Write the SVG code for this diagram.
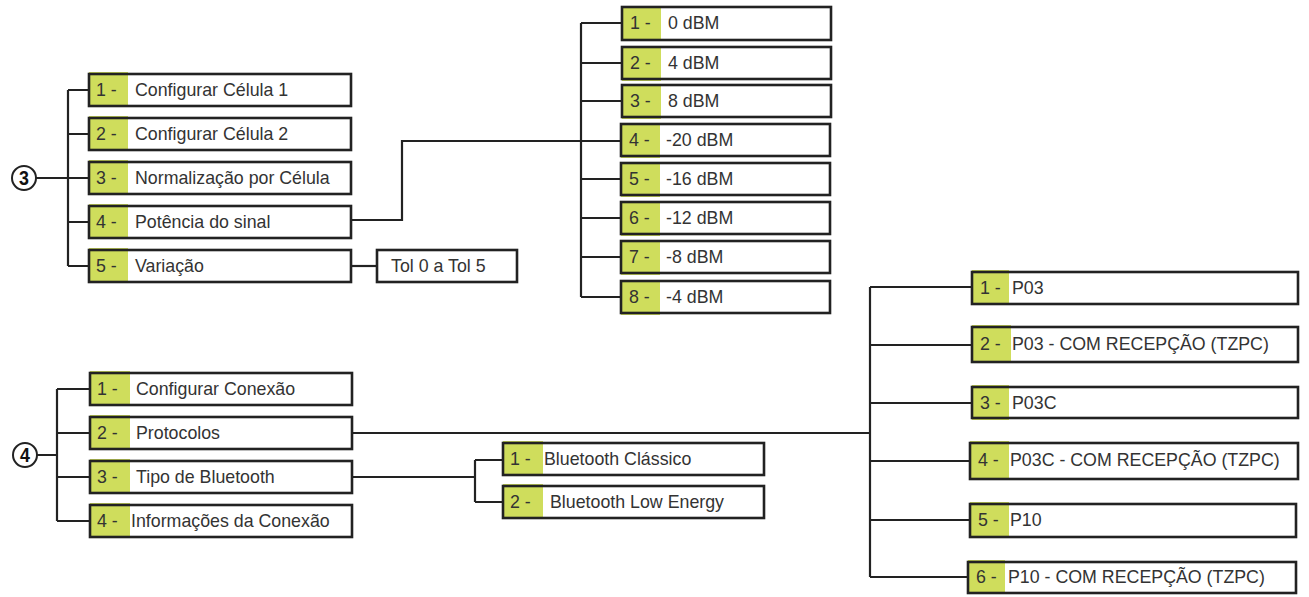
<svg xmlns="http://www.w3.org/2000/svg" width="1309" height="597" viewBox="0 0 1309 597">
<style>
.bg{fill:#fff;stroke:none}
.tag{fill:#cfdd5c}
.frame{fill:none;stroke:#222;stroke-width:2.6}
.t{font-family:"Liberation Sans",Arial,sans-serif;font-size:17.8px;fill:#333}
.c{fill:none;stroke:#222;stroke-width:2.2}
.circ{fill:#fff;stroke:#222;stroke-width:2}
.cn{font-family:"Liberation Sans",Arial,sans-serif;font-size:21px;font-weight:bold;fill:#111;text-anchor:middle}
</style>
<rect width="1309" height="597" fill="#fff"/>
<g id="connectors">
<path class="c" d="M36 178H68M68 90V266M68 90H89M68 134H89M68 178H89M68 222H89M68 266H89"/>
<path class="c" d="M351 266H377"/>
<path class="c" d="M351 220H402V141H622M581 23V297M581 23H622M581 63H622M581 101H622M581 179H622M581 218H622M581 257H622M581 297H622"/>
<path class="c" d="M37 455H57M57 389V521M57 389H90M57 433H90M57 477H90M57 521H90"/>
<path class="c" d="M352 433H870M870 287V577M870 287H972M870 345H972M870 403H972M870 461H970M870 520H970M870 577H968"/>
<path class="c" d="M352 477H475M475 460V502M475 460H503M475 502H503"/>
</g>
<g id="n3">
<circle class="circ" cx="24" cy="178" r="12"/>
<text class="cn" x="24" y="185.5" transform="translate(24 0) scale(0.85 1) translate(-24 0)">3</text>
</g>
<g id="n3-1"><rect class="bg" x="89" y="74" width="262" height="32"/><rect class="tag" x="89" y="72" width="39" height="35"/><rect class="frame" x="89" y="74" width="262" height="32"/><text class="t" x="96" y="96">1 -</text><text class="t" x="135" y="96">Configurar Célula 1</text></g>
<g id="n3-2"><rect class="bg" x="89" y="118" width="262" height="32"/><rect class="tag" x="89" y="116" width="39" height="35"/><rect class="frame" x="89" y="118" width="262" height="32"/><text class="t" x="96" y="140">2 -</text><text class="t" x="135" y="140">Configurar Célula 2</text></g>
<g id="n3-3"><rect class="bg" x="89" y="162" width="262" height="32"/><rect class="tag" x="89" y="160" width="39" height="35"/><rect class="frame" x="89" y="162" width="262" height="32"/><text class="t" x="96" y="184">3 -</text><text class="t" x="135" y="184">Normalização por Célula</text></g>
<g id="n3-4"><rect class="bg" x="89" y="206" width="262" height="32"/><rect class="tag" x="89" y="204" width="39" height="35"/><rect class="frame" x="89" y="206" width="262" height="32"/><text class="t" x="96" y="228">4 -</text><text class="t" x="135" y="228">Potência do sinal</text></g>
<g id="n3-5"><rect class="bg" x="89" y="250" width="262" height="32"/><rect class="tag" x="89" y="248" width="39" height="35"/><rect class="frame" x="89" y="250" width="262" height="32"/><text class="t" x="96" y="272">5 -</text><text class="t" x="135" y="272">Variação</text></g>
<g id="tol"><rect class="bg" x="377" y="250" width="140" height="32"/><rect class="frame" x="377" y="250" width="140" height="32"/><text class="t" x="391" y="272">Tol 0 a Tol 5</text></g>
<g id="d1"><rect class="bg" x="622" y="7" width="209" height="33"/><rect class="tag" x="622" y="6" width="39" height="35"/><rect class="frame" x="622" y="7" width="209" height="33"/><text class="t" x="630" y="29">1 -</text><text class="t" x="668" y="29">0 dBM</text></g>
<g id="d2"><rect class="bg" x="622" y="47" width="209" height="32"/><rect class="tag" x="622" y="46" width="39" height="35"/><rect class="frame" x="622" y="47" width="209" height="32"/><text class="t" x="630" y="69">2 -</text><text class="t" x="668" y="69">4 dBM</text></g>
<g id="d3"><rect class="bg" x="622" y="85" width="209" height="32"/><rect class="tag" x="622" y="84" width="39" height="35"/><rect class="frame" x="622" y="85" width="209" height="32"/><text class="t" x="630" y="107">3 -</text><text class="t" x="668" y="107">8 dBM</text></g>
<g id="d4"><rect class="bg" x="621" y="124" width="209" height="32"/><rect class="tag" x="621" y="123" width="39" height="35"/><rect class="frame" x="621" y="124" width="209" height="32"/><text class="t" x="629" y="146">4 -</text><text class="t" x="666" y="146">-20 dBM</text></g>
<g id="d5"><rect class="bg" x="621" y="163" width="209" height="32"/><rect class="tag" x="621" y="162" width="39" height="35"/><rect class="frame" x="621" y="163" width="209" height="32"/><text class="t" x="629" y="185">5 -</text><text class="t" x="666" y="185">-16 dBM</text></g>
<g id="d6"><rect class="bg" x="621" y="202" width="209" height="32"/><rect class="tag" x="621" y="201" width="39" height="35"/><rect class="frame" x="621" y="202" width="209" height="32"/><text class="t" x="629" y="224">6 -</text><text class="t" x="666" y="224">-12 dBM</text></g>
<g id="d7"><rect class="bg" x="621" y="241" width="209" height="32"/><rect class="tag" x="621" y="240" width="39" height="35"/><rect class="frame" x="621" y="241" width="209" height="32"/><text class="t" x="629" y="263">7 -</text><text class="t" x="666" y="263">-8 dBM</text></g>
<g id="d8"><rect class="bg" x="621" y="281" width="209" height="32"/><rect class="tag" x="621" y="280" width="39" height="35"/><rect class="frame" x="621" y="281" width="209" height="32"/><text class="t" x="629" y="303">8 -</text><text class="t" x="666" y="303">-4 dBM</text></g>
<g id="n4">
<circle class="circ" cx="25" cy="455" r="12"/>
<text class="cn" x="25" y="462.5" transform="translate(25 0) scale(0.85 1) translate(-25 0)">4</text>
</g>
<g id="n4-1"><rect class="bg" x="90" y="373" width="262" height="32"/><rect class="tag" x="90" y="371" width="40" height="35"/><rect class="frame" x="90" y="373" width="262" height="32"/><text class="t" x="97" y="395">1 -</text><text class="t" x="136" y="395">Configurar Conexão</text></g>
<g id="n4-2"><rect class="bg" x="90" y="417" width="262" height="32"/><rect class="tag" x="90" y="415" width="40" height="35"/><rect class="frame" x="90" y="417" width="262" height="32"/><text class="t" x="97" y="439">2 -</text><text class="t" x="136" y="439">Protocolos</text></g>
<g id="n4-3"><rect class="bg" x="90" y="461" width="262" height="32"/><rect class="tag" x="90" y="459" width="40" height="35"/><rect class="frame" x="90" y="461" width="262" height="32"/><text class="t" x="97" y="483">3 -</text><text class="t" x="136" y="483">Tipo de Bluetooth</text></g>
<g id="n4-4"><rect class="bg" x="90" y="505" width="262" height="32"/><rect class="tag" x="90" y="503" width="40" height="35"/><rect class="frame" x="90" y="505" width="262" height="32"/><text class="t" x="97" y="527">4 -</text><text class="t" x="131" y="527">Informações da Conexão</text></g>
<g id="b1"><rect class="bg" x="503" y="443" width="261" height="32"/><rect class="tag" x="503" y="441" width="40" height="35"/><rect class="frame" x="503" y="443" width="261" height="32"/><text class="t" x="510" y="465">1 -</text><text class="t" x="544" y="465">Bluetooth Clássico</text></g>
<g id="b2"><rect class="bg" x="503" y="486" width="261" height="32"/><rect class="tag" x="503" y="484" width="40" height="35"/><rect class="frame" x="503" y="486" width="261" height="32"/><text class="t" x="510" y="508">2 -</text><text class="t" x="550" y="508">Bluetooth Low Energy</text></g>
<g id="p1"><rect class="bg" x="972" y="272" width="326" height="32"/><rect class="tag" x="972" y="270" width="37" height="35"/><rect class="frame" x="972" y="272" width="326" height="32"/><text class="t" x="980" y="294">1 -</text><text class="t" x="1012" y="294">P03</text></g>
<g id="p2"><rect class="bg" x="972" y="327" width="326" height="35"/><rect class="tag" x="972" y="325" width="39" height="38"/><rect class="frame" x="972" y="327" width="326" height="35"/><text class="t" x="980" y="350">2 -</text><text class="t" x="1012" y="350">P03 - COM RECEPÇÃO (TZPC)</text></g>
<g id="p3"><rect class="bg" x="972" y="387" width="326" height="31"/><rect class="tag" x="972" y="385" width="37" height="35"/><rect class="frame" x="972" y="387" width="326" height="31"/><text class="t" x="980" y="409">3 -</text><text class="t" x="1012" y="409">P03C</text></g>
<g id="p4"><rect class="bg" x="970" y="443" width="328" height="36"/><rect class="tag" x="970" y="441" width="39" height="39"/><rect class="frame" x="970" y="443" width="328" height="36"/><text class="t" x="978" y="466">4 -</text><text class="t" x="1010" y="466">P03C - COM RECEPÇÃO (TZPC)</text></g>
<g id="p5"><rect class="bg" x="970" y="504" width="326" height="33"/><rect class="tag" x="970" y="502" width="39" height="36"/><rect class="frame" x="970" y="504" width="326" height="33"/><text class="t" x="978" y="526">5 -</text><text class="t" x="1010" y="526">P10</text></g>
<g id="p6"><rect class="bg" x="968" y="562" width="328" height="31"/><rect class="tag" x="968" y="560" width="37" height="34"/><rect class="frame" x="968" y="562" width="328" height="31"/><text class="t" x="976" y="583">6 -</text><text class="t" x="1008" y="583">P10 -  COM RECEPÇÃO (TZPC)</text></g>
</svg>
